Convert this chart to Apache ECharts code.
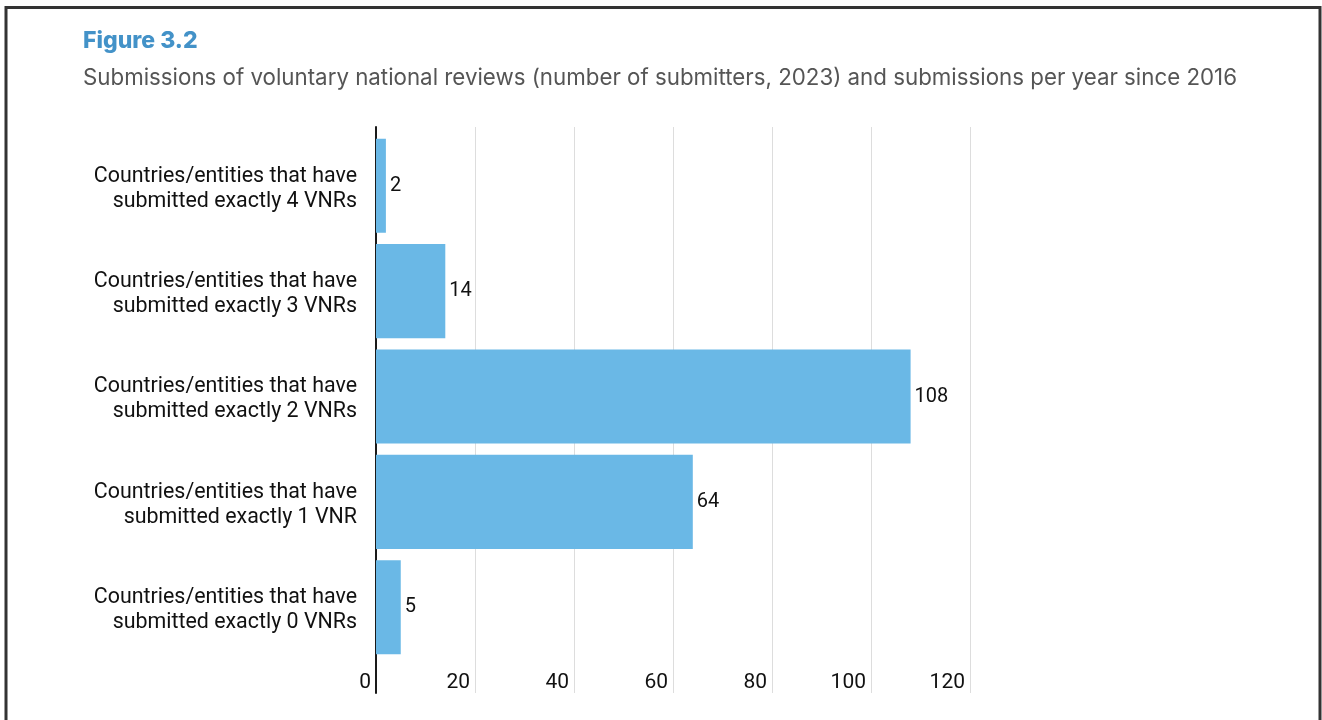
<!DOCTYPE html>
<html>
<head>
<meta charset="utf-8">
<script src="https://cdn.jsdelivr.net/npm/echarts@6/dist/echarts.min.js"></script>
<style>
html,body{margin:0;padding:0;background:#fff;}
#chart{width:1322px;height:720px;}
</style>
</head>
<body>
<div id="chart"></div>
<script>
const titleText = 'Figure 3.2';
const subtitleText = 'Submissions of voluntary national reviews (number of submitters, 2023) and submissions per year since 2016';
const categories = [
  'Countries/entities that have\nsubmitted exactly 4 VNRs',
  'Countries/entities that have\nsubmitted exactly 3 VNRs',
  'Countries/entities that have\nsubmitted exactly 2 VNRs',
  'Countries/entities that have\nsubmitted exactly 1 VNR',
  'Countries/entities that have\nsubmitted exactly 0 VNRs'
];
const values = [2, 14, 108, 64, 5];
const xMin = 0, xMax = 120, xStep = 20;

const chart = echarts.init(document.getElementById('chart'), null, {renderer: 'canvas'});
const font = 'Roboto, "Noto Sans", sans-serif';
chart.setOption({
  animation: false,
  backgroundColor: '#ffffff',
  graphic: [
    {type: 'rect', shape: {x: 6, y: 7.5, width: 1314, height: 800}, style: {fill: 'none', stroke: '#333333', lineWidth: 3}, silent: true},
    {type: 'text', x: 83, y: 41, style: {text: titleText, font: '800 23px Inter, sans-serif', fill: '#4392c8', verticalAlign: 'middle'}},
    {type: 'text', x: 83, y: 78.5, style: {text: subtitleText, font: '22.3px Inter, sans-serif', fill: '#555555', verticalAlign: 'middle'}}
  ],
  grid: [
    {left: 376, right: 352, top: 133, height: 527},
    {left: 376, right: 352, top: 127, bottom: 27},
    {left: 376, right: 352, top: 136, height: 527}
  ],
  xAxis: [
    {gridIndex: 0, type: 'value', min: xMin, max: xMax, interval: xStep, show: false},
    {gridIndex: 1, type: 'value', min: xMin, max: xMax, interval: xStep,
     axisLine: {show: false}, axisTick: {show: false},
     splitLine: {show: true, lineStyle: {color: '#dddddd', width: 1}},
     axisLabel: {fontFamily: font, fontSize: 21, lineHeight: 21, color: '#111111', align: 'right', padding: [0, 5, 0, 0], margin: -21}},
    {gridIndex: 2, type: 'value', min: xMin, max: xMax, show: false}
  ],
  yAxis: [
    {gridIndex: 0, type: 'category', data: categories, inverse: true, show: false},
    {gridIndex: 1, type: 'value', min: 0, max: 1,
     axisLine: {show: true, lineStyle: {color: '#1a1a1a', width: 2}},
     axisTick: {show: false}, axisLabel: {show: false}, splitLine: {show: false}},
    {gridIndex: 2, type: 'category', data: categories, inverse: true,
     axisLine: {show: false}, axisTick: {show: false}, splitLine: {show: false},
     axisLabel: {fontFamily: font, fontSize: 21.4, lineHeight: 25, color: '#111111', margin: 19, align: 'right'}}
  ],
  series: [{
    type: 'bar', xAxisIndex: 0, yAxisIndex: 0, data: values,
    barCategoryGap: '10.7%',
    itemStyle: {color: '#6ab8e6'},
    label: {show: true, position: 'right', distance: 4, fontFamily: font, fontSize: 20, color: '#111111'}
  }]
});
</script>
</body>
</html>
